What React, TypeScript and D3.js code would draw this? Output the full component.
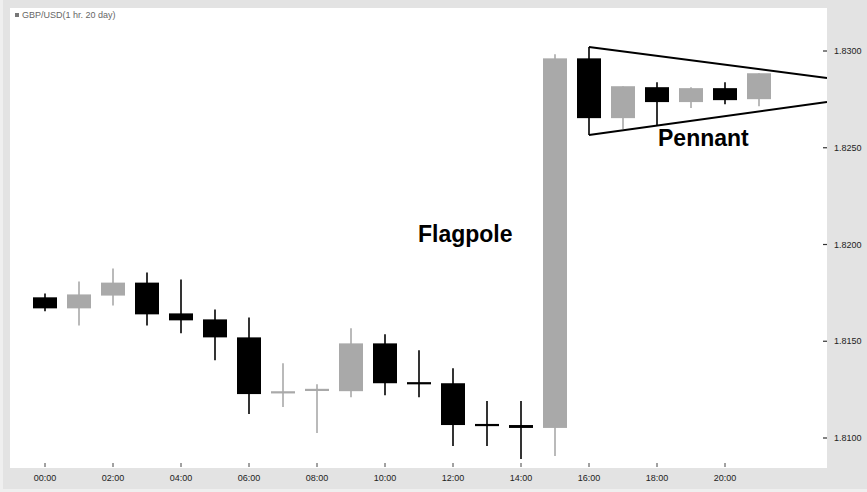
import React from "react";
import * as d3 from "d3";

const hours = ["00:00","01:00","02:00","03:00","04:00","05:00","06:00","07:00","08:00","09:00","10:00","11:00","12:00","13:00","14:00","15:00","16:00","17:00","18:00","19:00","20:00","21:00"];
const opens =  [1.81727,1.81670,1.81736,1.81803,1.81644,1.81613,1.81520,1.81232,1.81247,1.81242,1.81489,1.81286,1.81283,1.81070,1.81067,1.81052,1.82962,1.82653,1.82813,1.82736,1.82808,1.82751];
const closes = [1.81670,1.81742,1.81803,1.81639,1.81608,1.81520,1.81227,1.81240,1.81250,1.81489,1.81283,1.81280,1.81067,1.81064,1.81052,1.82962,1.82653,1.82818,1.82736,1.82808,1.82746,1.82885];
const highs =  [1.81747,1.81809,1.81876,1.81855,1.81819,1.81664,1.81623,1.81386,1.81278,1.81567,1.81536,1.81453,1.81360,1.81191,1.81191,1.82983,1.83021,1.82818,1.82839,1.82813,1.82839,1.82885];
const lows =   [1.81655,1.81582,1.81685,1.81582,1.81541,1.81402,1.81124,1.81160,1.81026,1.81211,1.81221,1.81211,1.80959,1.80959,1.80892,1.80907,1.82566,1.82597,1.82617,1.82705,1.82725,1.82715];

const xTickIdx = [0,2,4,6,8,10,12,14,16,18,20];
const yTicks = [1.81,1.815,1.82,1.825,1.83];

const pennantUpper = [{ i: 16, v: 1.83021 }, { i: 23, v: 1.8286 }];
const pennantLower = [{ i: 16, v: 1.82566 }, { i: 23, v: 1.82736 }];

const annotations = [
  { text: "Flagpole", i: 10.97, v: 1.82013 },
  { text: "Pennant", i: 18.03, v: 1.82509 },
];

const W = 867, H = 492;
const plot = { left: 10, top: 8, right: 827, bottom: 468 };
const FONT = "'Liberation Sans', Arial, Helvetica, sans-serif";

export default function App() {
  const x = d3.scaleLinear().domain([0, 21]).range([45, 759]);
  const y = d3.scaleLinear().domain([1.81, 1.83]).range([438, 51]);
  const bodyW = 24;
  const line = d3.line<{ i: number; v: number }>().x(d => x(d.i)).y(d => y(d.v));

  return (
    <svg width={W} height={H} style={{ position: "absolute", left: 0, top: 0 }}>
      <defs>
        <clipPath id="plotclip">
          <rect x={plot.left} y={plot.top} width={plot.right - plot.left} height={plot.bottom - plot.top} />
        </clipPath>
      </defs>
      <rect x={0} y={0} width={W} height={H} fill="#e3e3e3" />
      <rect x={0} y={0} width={3} height={H} fill="#efefef" />
      <rect x={0} y={489} width={W} height={3} fill="#efefef" />
      <rect x={plot.left} y={plot.top} width={plot.right - plot.left} height={plot.bottom - plot.top} fill="#ffffff" />

      {/* legend */}
      <rect x={15} y={13} width={4} height={4} fill="#777" />
      <text x={22} y={18} fontFamily={FONT} fontSize={9} fill="#666">GBP/USD(1 hr.  20 day)</text>

      {/* candles */}
      <g clipPath="url(#plotclip)">
        {hours.map((h, i) => {
          const o = opens[i], c = closes[i];
          const up = c >= o;
          const color = up ? "#a9a9a9" : "#000000";
          const top = y(Math.max(o, c));
          const bot = y(Math.min(o, c));
          const bh = Math.max(bot - top, 2.2);
          const by = bot - top < 2.2 ? (top + bot) / 2 - 1.1 : top;
          return (
            <g key={h}>
              <line x1={x(i)} x2={x(i)} y1={y(highs[i])} y2={y(lows[i])} stroke={color} strokeWidth={1.6} />
              <rect x={x(i) - bodyW / 2} y={by} width={bodyW} height={bh} fill={color} />
            </g>
          );
        })}
        <path d={line(pennantUpper) || ""} fill="none" stroke="#000" strokeWidth={2} />
        <path d={line(pennantLower) || ""} fill="none" stroke="#000" strokeWidth={2} />
      </g>

      {/* x axis */}
      {xTickIdx.map(i => (
        <g key={"xt" + i}>
          <line x1={x(i)} x2={x(i)} y1={463} y2={467} stroke="#444" strokeWidth={1} />
          <text x={x(i)} y={481} textAnchor="middle" fontFamily={FONT} fontSize={9} fill="#222">{hours[i]}</text>
        </g>
      ))}

      {/* y axis */}
      {yTicks.map(v => (
        <g key={"yt" + v}>
          <line x1={823} x2={827} y1={y(v)} y2={y(v)} stroke="#333" strokeWidth={1.2} />
          <text x={834} y={y(v) + 3} fontFamily={FONT} fontSize={9} fill="#222">{v.toFixed(4)}</text>
        </g>
      ))}

      {annotations.map(a => (
        <text key={a.text} x={x(a.i)} y={y(a.v)} fontFamily={FONT} fontSize={23} fontWeight="bold" fill="#000">{a.text}</text>
      ))}
    </svg>
  );
}
